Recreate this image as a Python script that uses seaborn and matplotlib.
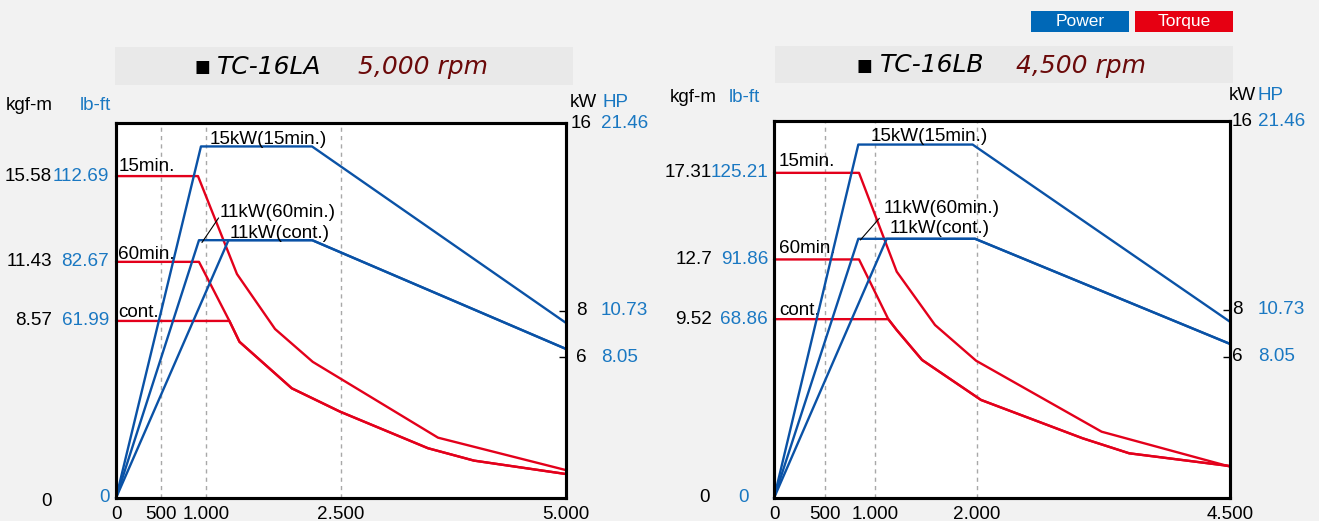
import numpy as np
import pandas as pd
import matplotlib
matplotlib.use("Agg")
import matplotlib.pyplot as plt
import seaborn as sns
from matplotlib.patches import Rectangle

sns.set_theme(style="white")
plt.rcParams['font.family'] = ['Liberation Sans', 'DejaVu Sans']

# ---------------- data: TC-16LA (5,000 rpm) ----------------
la_xticks = [0, 500, 1000, 2500, 5000]
la_xlabels = ["0", "500", "1.000", "2.500", "5.000"]
la_grid = [500, 1000, 2500]
la_torque_ticks = [8.57, 11.43, 15.58]
la_torque_labels = ["8.57", "11.43", "15.58"]
la_lbft_labels = ["61.99", "82.67", "112.69"]
la_kw_ticks = [16, 8, 6]
la_kw_labels = ["16", "8", "6"]
la_hp_labels = ["21.46", "10.73", "8.05"]

la_p15_rpm = [0, 944, 2178, 5000]
la_p15_kw = [0, 15, 15, 7.47]
la_p60_rpm = [0, 922, 2180, 5000]
la_p60_kw = [0, 11, 11, 6.36]
la_pc_rpm = [0, 1250, 2180, 5000]
la_pc_kw = [0, 11, 11, 6.36]

la_t15_rpm = [0, 911, 1344, 1767, 2186, 3578, 5000]
la_t15 = [15.58, 15.58, 10.84, 8.18, 6.59, 2.92, 1.35]
la_t60_rpm = [0, 922, 1260, 1372, 1953, 2489, 3466, 3977, 5000]
la_t60 = [11.43, 11.43, 8.57, 7.56, 5.31, 4.18, 2.41, 1.81, 1.16]
la_tc_rpm = [0, 1260, 1372, 1953, 2489, 3466, 3977, 5000]
la_tc = [8.57, 8.57, 7.56, 5.31, 4.18, 2.41, 1.81, 1.16]

# ---------------- data: TC-16LB (4,500 rpm) ----------------
lb_xticks = [0, 500, 1000, 2000, 4500]
lb_xlabels = ["0", "500", "1.000", "2.000", "4.500"]
lb_grid = [500, 1000, 2000]
lb_torque_ticks = [9.52, 12.7, 17.31]
lb_torque_labels = ["9.52", "12.7", "17.31"]
lb_lbft_labels = ["68.86", "91.86", "125.21"]
lb_kw_ticks = [16, 8, 6]
lb_kw_labels = ["16", "8", "6"]
lb_hp_labels = ["21.46", "10.73", "8.05"]

lb_p15_rpm = [0, 832, 1960, 4500]
lb_p15_kw = [0, 15, 15, 7.48]
lb_p60_rpm = [0, 832, 1985, 4500]
lb_p60_kw = [0, 11, 11, 6.54]
lb_pc_rpm = [0, 1112, 1985, 4500]
lb_pc_kw = [0, 11, 11, 6.54]

lb_t15_rpm = [0, 839, 1211, 1589, 1994, 3233, 4500]
lb_t15 = [17.31, 17.31, 12.05, 9.21, 7.31, 3.53, 1.67]
lb_t60_rpm = [0, 839, 1128, 1210, 1461, 2043, 3045, 3505, 4500]
lb_t60 = [12.7, 12.7, 9.52, 8.95, 7.35, 5.22, 3.18, 2.38, 1.70]
lb_tc_rpm = [0, 1128, 1210, 1461, 2043, 3045, 3505, 4500]
lb_tc = [9.52, 9.52, 8.95, 7.35, 5.22, 3.18, 2.38, 1.70]

# ---------------- style ----------------
W, H = 1319, 521
BLUE = '#0a52a6'
RED = '#e3001b'
TBLUE = '#1a78c2'
DARKRED = '#6b0a0a'
FS = 13.6

fig = plt.figure(figsize=(W / 100, H / 100), dpi=100)
fig.patch.set_facecolor('#f2f2f2')


def fx(px):
    return px / W


def fy(py):
    return 1 - py / H


def line(ax, xs, ys, color):
    df = pd.DataFrame({'rpm': xs, 'val': ys})
    sns.lineplot(data=df, x='rpm', y='val', ax=ax, color=color, lw=1.7,
                 sort=False, estimator=None, clip_on=False)


def draw_chart(rect, xmax, tmax, xticks, xlabels, grid,
               tticks, tlabels, lblabels, kwticks, kwlabels, hplabels,
               power, torque, cfg):
    ax = fig.add_axes(rect)
    ax.set_facecolor('white')
    ax2 = ax.twinx()
    ax.set_xlim(0, xmax)
    ax.set_ylim(0, tmax)
    ax2.set_ylim(0, 16)
    for g in grid:
        ax.axvline(g, color='#a8a8a8', lw=1, ls=(0, (3, 3)), zorder=0)
    for xs, ys in torque:
        line(ax, xs, ys, RED)
    for xs, ys in power:
        line(ax2, xs, ys, BLUE)
    for a in (ax, ax2):
        for s in a.spines.values():
            s.set_color('black')
            s.set_linewidth(2.2)
        a.set_xlabel('')
        a.set_ylabel('')
    ax.set_xticks(xticks, xlabels)
    ax.tick_params(axis='x', length=0, pad=6, labelsize=FS, colors='black')
    ax.set_yticks([])
    ax2.set_yticks([8, 6])
    ax2.tick_params(axis='y', direction='in', length=5, width=1,
                    labelright=False, colors='black')
    # left tick labels (kgf-m black, lb-ft blue)
    for v, tl, bl in zip(tticks, tlabels, lblabels):
        ax.annotate(tl, xy=(0, v), xycoords=('axes fraction', 'data'),
                    xytext=(cfg['kg_dx'], 0), textcoords='offset pixels',
                    ha='right', va='center', fontsize=FS, color='black')
        ax.annotate(bl, xy=(0, v), xycoords=('axes fraction', 'data'),
                    xytext=(cfg['lb_dx'], 0), textcoords='offset pixels',
                    ha='right', va='center', fontsize=FS, color=TBLUE)
    ax.annotate('0', xy=(0, 0), xycoords=('axes fraction', 'data'),
                xytext=(cfg['z_kg_dx'], cfg['z_dy']), textcoords='offset pixels',
                ha='right', va='center', fontsize=FS, color='black')
    ax.annotate('0', xy=(0, 0), xycoords=('axes fraction', 'data'),
                xytext=(cfg['z_lb_dx'], 0), textcoords='offset pixels',
                ha='right', va='center', fontsize=FS, color=TBLUE)
    # right tick labels (kW black, HP blue)
    for v, kl, hl in zip(kwticks, kwlabels, hplabels):
        ax2.annotate(kl, xy=(1, v), xycoords=('axes fraction', 'data'),
                     xytext=(cfg['kw_dx'], 0), textcoords='offset pixels',
                     ha=cfg['kw_ha'], va='center', fontsize=FS, color='black')
        ax2.annotate(hl, xy=(1, v), xycoords=('axes fraction', 'data'),
                     xytext=(cfg['hp_dx'], 0), textcoords='offset pixels',
                     ha='left', va='center', fontsize=FS, color=TBLUE)
    # curve annotations
    for s, x, y, which in cfg['notes']:
        a = ax2 if which == 'p' else ax
        a.text(x, y, s, ha='left', va='center', fontsize=FS, color='black')
    (x0, y0), (x1, y1) = cfg['leader']
    ax2.plot([x0, x1], [y0, y1], color='black', lw=0.8)
    return ax, ax2


la_cfg = dict(kg_dx=-64, lb_dx=-7, z_kg_dx=-64, z_lb_dx=-6, z_dy=-4,
              kw_dx=15, kw_ha='center', hp_dx=35,
              notes=[("15kW(15min.)", 1040, 15.3, 'p'),
                     ("11kW(60min.)", 1150, 12.2, 'p'),
                     ("11kW(cont.)", 1260, 11.3, 'p'),
                     ("15min.", 25, 16.05, 't'),
                     ("60min.", 25, 11.8, 't'),
                     ("cont.", 25, 9.0, 't')],
              leader=[(955, 10.9), (1140, 11.95)])

lb_cfg = dict(kg_dx=-62, lb_dx=-6, z_kg_dx=-64, z_lb_dx=-25, z_dy=0,
              kw_dx=2, kw_ha='left', hp_dx=28,
              notes=[("15kW(15min.)", 950, 15.35, 'p'),
                     ("11kW(60min.)", 1085, 12.3, 'p'),
                     ("11kW(cont.)", 1145, 11.45, 'p'),
                     ("15min.", 50, 17.9, 't'),
                     ("60min.", 50, 13.3, 't'),
                     ("cont.", 50, 9.96, 't')],
              leader=[(852, 10.95), (1040, 11.87)])

draw_chart([fx(116), fy(498), fx(450), 375 / H], 5000, 18.15,
           la_xticks, la_xlabels, la_grid,
           la_torque_ticks, la_torque_labels, la_lbft_labels,
           la_kw_ticks, la_kw_labels, la_hp_labels,
           [(la_p15_rpm, la_p15_kw), (la_p60_rpm, la_p60_kw), (la_pc_rpm, la_pc_kw)],
           [(la_t15_rpm, la_t15), (la_t60_rpm, la_t60), (la_tc_rpm, la_tc)],
           la_cfg)

draw_chart([fx(774), fy(498), fx(456), 377 / H], 4500, 20.07,
           lb_xticks, lb_xlabels, lb_grid,
           lb_torque_ticks, lb_torque_labels, lb_lbft_labels,
           lb_kw_ticks, lb_kw_labels, lb_hp_labels,
           [(lb_p15_rpm, lb_p15_kw), (lb_p60_rpm, lb_p60_kw), (lb_pc_rpm, lb_pc_kw)],
           [(lb_t15_rpm, lb_t15), (lb_t60_rpm, lb_t60), (lb_tc_rpm, lb_tc)],
           lb_cfg)

# unit labels
units = [("kgf-m", 29.5, 106, 'black'), ("lb-ft", 95.5, 106, TBLUE),
         ("kW", 583.5, 103, 'black'), ("HP", 615, 103, TBLUE),
         ("kgf-m", 693.5, 97, 'black'), ("lb-ft", 744, 97, TBLUE),
         ("kW", 1242, 95, 'black'), ("HP", 1270.5, 95, TBLUE)]
for s, x, y, c in units:
    fig.text(fx(x), fy(y), s, ha='center', va='center', fontsize=FS, color=c)

# header boxes
headers = [(115, 47, 573, 85, 194, 217, 358, "TC-16LA", "5,000 rpm"),
           (775, 46, 1233, 83, 857, 880, 1016, "TC-16LB", "4,500 rpm")]
for x0, y0, x1, y1, xs, xm, xr, model, rpm in headers:
    fig.patches.append(Rectangle((fx(x0), fy(y1)), fx(x1 - x0), (y1 - y0) / H,
                                 transform=fig.transFigure, facecolor='#e9e9e9',
                                 edgecolor='none', zorder=0))
    yc = fy((y0 + y1) / 2 + 1)
    fig.text(fx(xs), yc, "■", ha='left', va='center', fontsize=12,
             color='black', family=['DejaVu Sans'])
    fig.text(fx(xm), yc, model, ha='left', va='center', fontsize=18,
             style='italic', color='black', family=['DejaVu Sans'])
    fig.text(fx(xr), yc, rpm, ha='left', va='center', fontsize=18,
             style='italic', color=DARKRED, family=['DejaVu Sans'])

# legend boxes
for x0, x1, txt, c in [(1031, 1129, "Power", '#0068b7'), (1135, 1233, "Torque", '#e60012')]:
    fig.patches.append(Rectangle((fx(x0), fy(32)), fx(x1 - x0), 21 / H,
                                 transform=fig.transFigure, facecolor=c,
                                 edgecolor='none'))
    fig.text(fx((x0 + x1) / 2), fy(21.5), txt, ha='center', va='center',
             fontsize=12.5, color='white')

fig.savefig('out.png', dpi=100, facecolor=fig.get_facecolor())
